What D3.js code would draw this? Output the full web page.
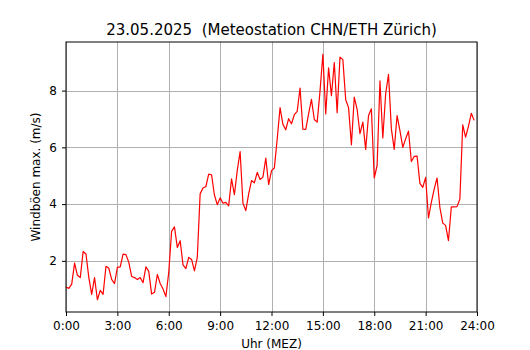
<!DOCTYPE html>
<html>
<head>
<meta charset="utf-8">
<script src="https://cdn.jsdelivr.net/npm/d3@7"></script>
<style>
  body { margin: 0; background: #fff; }
  text { font-family: "DejaVu Sans", sans-serif; fill: #000; }
</style>
</head>
<body>
<div id="graphic"></div>
<script>
// Gust values (m/s), one every 10 minutes from 0:00 to 23:50
const gusts = [
  1.08, 1.03, 1.18, 1.92, 1.49, 1.41, 2.33, 2.24, 1.41, 0.82, 1.41, 0.63,
  0.96, 0.82, 1.81, 1.74, 1.35, 1.20, 1.77, 1.79, 2.24, 2.22, 1.95, 1.45,
  1.41, 1.34, 1.41, 1.23, 1.79, 1.63, 0.83, 0.89, 1.52, 1.20, 1.01, 0.74,
  1.60, 3.04, 3.20, 2.47, 2.71, 1.86, 1.73, 2.12, 2.05, 1.65, 2.12, 4.36,
  4.57, 4.62, 5.06, 5.03, 4.32, 3.98, 4.22, 4.03, 4.06, 3.94, 4.89, 4.33,
  5.18, 5.85, 4.03, 3.77, 4.36, 4.83, 4.75, 5.12, 4.87, 4.95, 5.62, 4.69,
  5.18, 5.27, 6.30, 7.40, 6.81, 6.62, 7.01, 6.83, 7.15, 7.27, 8.09, 6.64,
  6.63, 7.18, 7.69, 6.98, 6.89, 7.98, 9.28, 7.18, 8.80, 7.82, 8.99, 7.22,
  9.18, 9.09, 7.68, 7.40, 6.09, 7.77, 7.34, 6.48, 6.89, 5.93, 7.12, 7.36,
  4.92, 5.36, 8.34, 6.33, 7.89, 8.57, 6.65, 5.93, 7.12, 6.59, 6.00, 6.30,
  6.57, 5.50, 5.68, 5.69, 4.73, 4.59, 4.94, 3.51, 4.06, 4.53, 4.92, 3.88,
  3.33, 3.25, 2.71, 3.90, 3.90, 3.91, 4.18, 6.79, 6.36, 6.74, 7.20, 6.95
];
const stepMinutes = 10;

const xTicks = [0, 3, 6, 9, 12, 15, 18, 21, 24];
const xTickLabels = ["0:00", "3:00", "6:00", "9:00", "12:00", "15:00", "18:00", "21:00", "24:00"];
const yTicks = [2, 4, 6, 8];

const titleText = "23.05.2025\u00a0\u00a0(Meteostation CHN/ETH Zürich)";
const xLabel = "Uhr (MEZ)";
const yLabel = "Windböen max. (m/s)";

const width = 530, height = 350;
const margin = {top: 42, right: 53, bottom: 38, left: 66};

const svg = d3.select("#graphic")
  .append("svg")
  .attr("width", width)
  .attr("height", height);

// matplotlib style 5% margin on the y range
const yMin = d3.min(gusts), yMax = d3.max(gusts);
const pad = (yMax - yMin) * 0.05;

const x = d3.scaleLinear()
  .domain([0, 24])
  .range([margin.left, width - margin.right]);

const y = d3.scaleLinear()
  .domain([yMin - pad, yMax + pad])
  .range([height - margin.bottom, margin.top]);

// grid
svg.append("g")
  .selectAll("line.vgrid")
  .data(xTicks)
  .join("line")
  .attr("x1", d => Math.round(x(d)) + 0.5)
  .attr("x2", d => Math.round(x(d)) + 0.5)
  .attr("y1", margin.top)
  .attr("y2", height - margin.bottom)
  .attr("stroke", "#b0b0b0")
  .attr("stroke-width", 1);

svg.append("g")
  .selectAll("line.hgrid")
  .data(yTicks)
  .join("line")
  .attr("x1", margin.left)
  .attr("x2", width - margin.right)
  .attr("y1", d => Math.round(y(d)) + 0.5)
  .attr("y2", d => Math.round(y(d)) + 0.5)
  .attr("stroke", "#b0b0b0")
  .attr("stroke-width", 1);

// the line
const line = d3.line()
  .x((d, i) => x(i * stepMinutes / 60))
  .y(d => y(d));

svg.append("path")
  .datum(gusts)
  .attr("d", line)
  .attr("fill", "none")
  .attr("stroke", "#ff0000")
  .attr("stroke-width", 1.2)
  .attr("stroke-linejoin", "round");

// axes
const xAxis = d3.axisBottom(x)
  .tickValues(xTicks)
  .tickFormat((d, i) => xTickLabels[i])
  .tickSize(4)
  .tickPadding(5);

const gx = svg.append("g")
  .attr("transform", "translate(0," + (height - margin.bottom) + ")")
  .call(xAxis);

const yAxis = d3.axisLeft(y)
  .tickValues(yTicks)
  .tickFormat(d3.format("d"))
  .tickSize(4)
  .tickPadding(5);

const gy = svg.append("g")
  .attr("transform", "translate(" + margin.left + ",0)")
  .call(yAxis);

[gx, gy].forEach(g => {
  g.select(".domain").remove();
  g.selectAll("text").style("font-size", "12px").style("font-family", "DejaVu Sans");
  g.selectAll("line").attr("stroke", "#000");
});

// frame
svg.append("rect")
  .attr("x", margin.left)
  .attr("y", margin.top)
  .attr("width", width - margin.left - margin.right)
  .attr("height", height - margin.top - margin.bottom)
  .attr("fill", "none")
  .attr("stroke", "#000")
  .attr("stroke-width", 1);

// title and labels
svg.append("text")
  .attr("x", (margin.left + width - margin.right) / 2)
  .attr("y", 35)
  .attr("text-anchor", "middle")
  .style("font-size", "15px")
  .text(titleText);

svg.append("text")
  .attr("x", (margin.left + width - margin.right) / 2)
  .attr("y", 348)
  .attr("text-anchor", "middle")
  .style("font-size", "12px")
  .text(xLabel);

svg.append("text")
  .attr("transform", "translate(40," + ((margin.top + height - margin.bottom) / 2) + ") rotate(-90)")
  .attr("text-anchor", "middle")
  .style("font-size", "12px")
  .text(yLabel);
</script>
</body>
</html>
